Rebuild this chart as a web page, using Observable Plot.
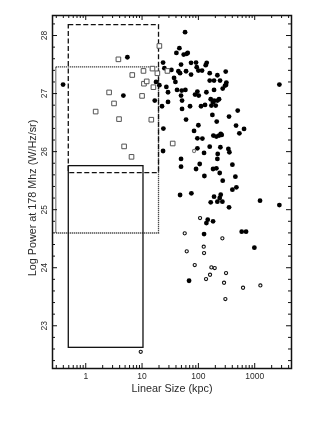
<!DOCTYPE html>
<html>
<head>
<meta charset="utf-8">
<script src="https://cdn.jsdelivr.net/npm/d3@7"></script>
<script src="https://cdn.jsdelivr.net/npm/@observablehq/plot@0.6"></script>
<style>
  html, body { margin: 0; padding: 0; background: #fff; }
  #chart { width: 327px; height: 436px; }
  #chart svg { filter: grayscale(100%); }
</style>
</head>
<body>
<div id="chart"></div>
<script>
// ---- data ----
// filled circles
const filledSize = [0.396,5.49,4.66,16.8,17.7,20.3,23.6,24.9,22.6,23.9,23.6,27.0,28.9,28.9,33.2,37.0,39.1,40.7,41.8,44.2,46.0,47.3,49.2,50.6,49.2,51.3,51.3,49.2,49.2,47.3,54.9,58.0,62.1,60.4,58.8,60.4,64.7,71.1,74.1,74.1,75.1,68.3,90.9,87.3,83.8,90.9,93.4,100,96.0,96.0,96.0,100,101.4,105.6,111.5,116.2,117.8,127.8,134.9,140.6,138.7,131.3,126.1,146.5,138.7,182.1,158.9,158.9,158.9,165.6,126.1,189.7,249.2,239.2,165.6,217.4,266.7,350.2,170.2,177.2,182.1,189.7,189.7,189.7,203.1,211.6,217.4,217.4,220.4,217.4,232.8,239.2,245.8,242.5,270.4,270.4,182.1,208.7,184.6,208.7,232.8,249.2,259.6,297.4,305.6,314.1,309.8,340.8,350.2,355.0,401.5,401.5,472.8,453.9,466.4,499.2,534.4,587.9,646.8,701.9,986.5,1243,2741,2741];
const filledPower = [27.155,27.626,26.966,26.879,27.201,27.144,27.534,27.437,26.782,26.397,26.011,27.115,27.023,26.856,27.408,27.270,27.201,27.701,27.063,27.385,27.782,27.351,27.500,27.052,26.966,26.879,26.736,25.874,25.741,25.253,27.672,28.057,27.684,27.385,27.063,26.552,27.701,26.782,27.328,27.529,25.282,23.776,27.534,26.983,26.356,25.701,27.454,27.397,27.034,26.230,26.057,26.454,26.966,25.787,26.782,27.397,26.224,25.580,27.489,27.529,27.023,26.805,24.580,24.828,24.770,24.799,27.224,27.351,26.086,26.902,25.977,25.224,25.259,25.201,25.126,25.138,25.138,25.040,26.793,26.632,26.851,26.879,27.224,27.063,26.793,26.517,27.316,26.879,25.960,25.874,26.902,25.632,26.075,27.224,27.086,25.500,25.701,25.713,26.276,26.259,26.276,26.305,26.287,27.138,27.379,27.190,27.149,26.046,26.603,25.989,25.345,25.776,25.385,25.569,26.448,26.707,26.316,24.621,26.391,24.621,24.345,25.155,27.155,25.080];
// open circles
const openSize  = [83.8,107.1,57.2,62.1,124.4,126.1,266.7,86.1,170.2,195,161,136.8,309.8,285.5,620.7,1261,301.4,9.47];
const openPower = [26.011,24.856,24.592,24.282,24.362,24.253,24.506,24.046,24.006,23.994,23.879,23.805,23.908,23.741,23.655,23.695,23.460,22.552];
// open squares
const squareSize  = [1.5,3.8,2.6,3.18,3.9,4.8,6.5,6.7,10,10.6,10.8,12.1,14.6,15.3,15.9,18.7,20.3,28.2,35];
const squarePower = [26.69,27.59,27.02,26.83,26.56,26.09,25.91,27.32,26.96,27.39,27.17,27.21,26.55,27.43,27.11,27.35,27.82,27.39,26.14];
// boxes
const boxName = ["dashed","dotted","solid"];
const boxX1 = [0.5, 0.3, 0.5];
const boxX2 = [20, 20, 10.6];
const boxY1 = [25.63, 24.59, 22.62];
const boxY2 = [28.18, 27.45, 25.75];
// ticks
const xMajorTicks = [1, 10, 100, 1000];
const xMinorTicks = [0.3,0.4,0.5,0.6,0.7,0.8,0.9,2,3,4,5,6,7,8,9,20,30,40,50,60,70,80,90,200,300,400,500,600,700,800,900,2000,3000,4000];
const yMajorTicks = [23, 24, 25, 26, 27, 28];
const yMinorTicks = [22.4,22.6,22.8,23.2,23.4,23.6,23.8,24.2,24.4,24.6,24.8,25.2,25.4,25.6,25.8,26.2,26.4,26.6,26.8,27.2,27.4,27.6,27.8,28.2];
const xTitle = "Linear Size (kpc)";
const yTitle = "Log Power at 178 Mhz (W/Hz/sr)";

// ---- build ----
const filled = filledSize.map((s, i) => ({size: s, power: filledPower[i]}));
const open = openSize.map((s, i) => ({size: s, power: openPower[i]}));
const squares = squareSize.map((s, i) => ({size: s, power: squarePower[i]}));
const boxes = boxName.map((n, i) => ({name: n, x1: boxX1[i], x2: boxX2[i], y1: boxY1[i], y2: boxY2[i]}));
const dash = {dashed: "5,2.5", dotted: "1,1", solid: null};

const W = 327, H = 436, mL = 52, mR = 36, mT = 15, mB = 68;
const fw = W - mL - mR, fh = H - mT - mB;
const font = "'Liberation Sans', Arial, Helvetica, sans-serif";
const ink = "#2a2a2a";

const boxMarks = boxes.map(b => Plot.rect([b], {
  x1: "x1", x2: "x2", y1: "y1", y2: "y2",
  fill: "none", stroke: "#111", strokeWidth: 1.3,
  strokeDasharray: dash[b.name]
}));

const chart = Plot.plot({
  width: W, height: H,
  marginLeft: mL, marginRight: mR, marginTop: mT, marginBottom: mB,
  style: {fontFamily: font, background: "#fff", color: ink},
  x: {type: "log", domain: [0.257, 4500], axis: null},
  y: {domain: [22.264, 28.345], axis: null},
  marks: [
    ...boxMarks,
    Plot.dot(filled, {x: "size", y: "power", r: 2.4, fill: "#000", stroke: "none"}),
    Plot.dot(open, {x: "size", y: "power", r: 1.6, fill: "#fff", stroke: (d, i) => i === 0 ? "#777" : "#111", strokeWidth: 1.1}),
    Plot.dot(squares, {x: "size", y: "power", r: 2.6, symbol: "square", fill: "#fff", stroke: "#555", strokeWidth: 1}),
    // ticks (inward) bottom/top
    Plot.tickX(xMajorTicks, {x: d => d, insetTop: fh - 5, stroke: "#111"}),
    Plot.tickX(xMinorTicks, {x: d => d, insetTop: fh - 3, stroke: "#111"}),
    Plot.tickX(xMajorTicks, {x: d => d, insetBottom: fh - 5, stroke: "#111"}),
    Plot.tickX(xMinorTicks, {x: d => d, insetBottom: fh - 3, stroke: "#111"}),
    // ticks left/right
    Plot.tickY(yMajorTicks, {y: d => d, insetRight: fw - 5, stroke: "#111"}),
    Plot.tickY(yMinorTicks, {y: d => d, insetRight: fw - 3, stroke: "#111"}),
    Plot.tickY(yMajorTicks, {y: d => d, insetLeft: fw - 5, stroke: "#111"}),
    Plot.tickY(yMinorTicks, {y: d => d, insetLeft: fw - 3, stroke: "#111"}),
    Plot.frame({stroke: "#111", strokeWidth: 1.5}),
    // tick labels
    Plot.text(xMajorTicks, {x: d => d, frameAnchor: "bottom", dy: 8, text: d => String(d), lineAnchor: "middle", fontSize: 8.5, fill: ink}),
    Plot.text(yMajorTicks, {y: d => d, frameAnchor: "left", dx: -8, rotate: -90, text: d => String(d), textAnchor: "middle", lineAnchor: "middle", fontSize: 8.5, fill: ink}),
    // titles
    Plot.text([xTitle], {frameAnchor: "bottom", dy: 20, text: d => d, lineAnchor: "middle", fontSize: 10.8, fill: ink}),
    Plot.text([yTitle], {frameAnchor: "left", dx: -20, dy: 6, rotate: -90, text: d => d, textAnchor: "middle", lineAnchor: "middle", fontSize: 10.8, fill: ink})
  ]
});
document.getElementById("chart").appendChild(chart);
</script>
</body>
</html>
